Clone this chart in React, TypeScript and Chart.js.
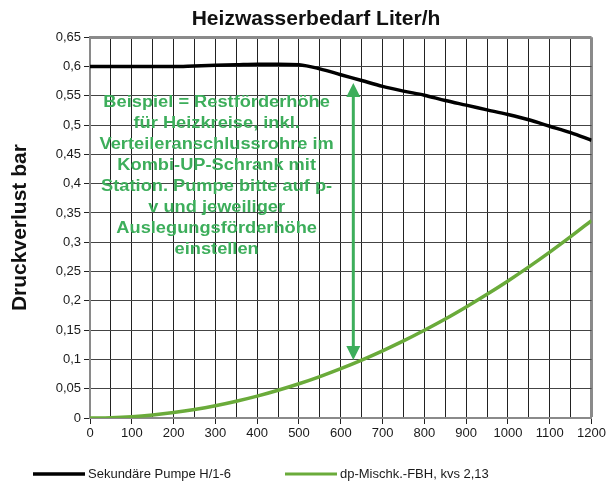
import React, { useEffect, useRef } from "react";
import { Chart, registerables } from "chart.js";

Chart.register(...registerables);

// ---- data ----
const chartTitle = "Heizwasserbedarf Liter/h";
const yAxisTitle = "Druckverlust bar";
const xValues = [0, 50, 100, 150, 200, 250, 300, 350, 400, 450, 500, 550, 600, 650, 700, 750, 800, 850, 900, 950, 1000, 1050, 1100, 1150, 1200];
const pumpeH16 = [0.6, 0.6, 0.6, 0.6, 0.6, 0.601, 0.602, 0.603, 0.604, 0.604, 0.603, 0.596, 0.586, 0.576, 0.566, 0.558, 0.551, 0.542, 0.534, 0.526, 0.518, 0.509, 0.498, 0.487, 0.474];
const mischFBH = [0, 0.0006, 0.0023, 0.0053, 0.0094, 0.0146, 0.021, 0.0287, 0.0374, 0.0474, 0.0585, 0.0708, 0.0843, 0.0989, 0.1147, 0.1316, 0.1498, 0.169, 0.1896, 0.2112, 0.234, 0.258, 0.2832, 0.3095, 0.337];
const seriesLabels = ["Sekundäre Pumpe H/1-6", "dp-Mischk.-FBH, kvs 2,13"];
const xTickLabels = ["0", "100", "200", "300", "400", "500", "600", "700", "800", "900", "1000", "1100", "1200"];
const yTickLabels = ["0", "0,05", "0,1", "0,15", "0,2", "0,25", "0,3", "0,35", "0,4", "0,45", "0,5", "0,55", "0,6", "0,65"];
const annotationLines = [
  "Beispiel = Restförderhöhe",
  "für Heizkreise, inkl.",
  "Verteileranschlussrohre im",
  "Kombi-UP-Schrank mit",
  "Station. Pumpe bitte auf p-",
  "v und jeweiliger",
  "Auslegungsförderhöhe",
  "einstellen",
];
const annotationX = 303;
const annotationTopY = 0.539;
const arrowX = 630;
const arrowTopY = 0.572;
const arrowBottomY = 0.099;

const FONT = '"Liberation Sans", Arial, Helvetica, sans-serif';
const GRAY = "#8a8a8a";
const ANNOT_GREEN = "#3dae5b";

const titleShiftPlugin = {
  id: "titleShift",
  afterLayout(chart: any) {
    const t = chart.titleBlock;
    if (t) {
      t.left += 20;
      t.right += 20;
    }
  },
};

const annotationPlugin = {
  id: "annotationText",
  afterDatasetsDraw(chart: any) {
    const { ctx, scales } = chart;
    const x = scales.x;
    const y = scales.y;
    ctx.save();
    ctx.strokeStyle = ANNOT_GREEN;
    ctx.fillStyle = ANNOT_GREEN;
    const ax = x.getPixelForValue(arrowX);
    const yt = y.getPixelForValue(arrowTopY);
    const yb = y.getPixelForValue(arrowBottomY);
    const head = 14;
    const hw = 7;
    ctx.lineWidth = 3;
    ctx.beginPath();
    ctx.moveTo(ax, yt + head - 1);
    ctx.lineTo(ax, yb - head + 1);
    ctx.stroke();
    ctx.beginPath();
    ctx.moveTo(ax, yt);
    ctx.lineTo(ax - hw, yt + head);
    ctx.lineTo(ax + hw, yt + head);
    ctx.closePath();
    ctx.fill();
    ctx.beginPath();
    ctx.moveTo(ax, yb);
    ctx.lineTo(ax - hw, yb - head);
    ctx.lineTo(ax + hw, yb - head);
    ctx.closePath();
    ctx.fill();
    const tx = x.getPixelForValue(annotationX);
    const ty = y.getPixelForValue(annotationTopY);
    ctx.font = `bold 16px ${FONT}`;
    ctx.textAlign = "center";
    ctx.textBaseline = "middle";
    annotationLines.forEach((line, i) => {
      ctx.save();
      ctx.translate(tx, ty + i * 21);
      ctx.scale(1.14, 1);
      ctx.fillText(line, 0, 0);
      ctx.restore();
    });
    ctx.restore();
  },
};

const legendPlugin = {
  id: "bottomLegend",
  afterDraw(chart: any) {
    const { ctx } = chart;
    const yPos = chart.height - 7;
    const starts = [33, 285];
    ctx.save();
    ctx.font = `13px ${FONT}`;
    ctx.textBaseline = "middle";
    ctx.textAlign = "left";
    chart.data.datasets.forEach((ds: any, i: number) => {
      const x0 = starts[i];
      ctx.strokeStyle = ds.borderColor;
      ctx.lineWidth = i === 0 ? 3.5 : 3;
      ctx.beginPath();
      ctx.moveTo(x0, yPos);
      ctx.lineTo(x0 + 52, yPos);
      ctx.stroke();
      ctx.fillStyle = "#1a1a1a";
      ctx.fillText(ds.label, x0 + 55, yPos);
    });
    ctx.restore();
  },
};

export default function App() {
  const canvasRef = useRef<HTMLCanvasElement | null>(null);

  useEffect(() => {
    document.body.style.margin = "0";
    const canvas = canvasRef.current;
    if (!canvas) return;
    const chart = new Chart(canvas, {
      type: "line",
      data: {
        datasets: [
          {
            label: seriesLabels[0],
            data: xValues.map((x, i) => ({ x, y: pumpeH16[i] })),
            borderColor: "#000000",
            borderWidth: 3.5,
            pointRadius: 0,
            cubicInterpolationMode: "monotone",
            fill: false,
          },
          {
            label: seriesLabels[1],
            data: xValues.map((x, i) => ({ x, y: mischFBH[i] })),
            borderColor: "#6aab3a",
            borderWidth: 3.5,
            pointRadius: 0,
            cubicInterpolationMode: "monotone",
            fill: false,
          },
        ],
      },
      options: {
        responsive: false,
        animation: false,
        layout: { padding: { left: 0, right: 16, top: 0, bottom: 33 } },
        plugins: {
          legend: { display: false },
          tooltip: { enabled: false },
          title: {
            display: true,
            text: chartTitle,
            color: "#111",
            font: { family: FONT, size: 21, weight: "bold" },
            padding: { top: 7, bottom: 5 },
          },
        },
        scales: {
          x: {
            type: "linear",
            min: 0,
            max: 1200,
            afterFit: (scale: any) => {
              scale.height = 30;
            },
            border: { display: true, color: GRAY, width: 2 },
            grid: {
              color: (c: any) => (c.tick && (c.tick.value === 1200 || c.tick.value === 0) ? GRAY : "#222"),
              lineWidth: (c: any) => (c.tick && c.tick.value === 1200 ? 3 : 1),
              tickColor: (c: any) => (c.tick && c.tick.value % 100 === 0 ? "#222" : "rgba(0,0,0,0)"),
              tickWidth: 1,
              tickLength: 6,
            },
            ticks: {
              stepSize: 50,
              autoSkip: false,
              maxRotation: 0,
              padding: 2,
              color: "#1a1a1a",
              font: { family: FONT, size: 13 },
              callback: (v: any) => (v % 100 === 0 ? xTickLabels[v / 100] : ""),
            },
          },
          y: {
            type: "linear",
            min: 0,
            max: 0.65,
            afterFit: (scale: any) => {
              scale.width = 90;
            },
            border: { display: true, color: GRAY, width: 2 },
            title: {
              display: true,
              text: yAxisTitle,
              color: "#111",
              font: { family: FONT, size: 21, weight: "bold" },
              padding: { top: 8, bottom: 0 },
            },
            grid: {
              color: (c: any) =>
                c.tick && (Math.abs(c.tick.value - 0.65) < 1e-6 || c.tick.value === 0) ? GRAY : "#444",
              lineWidth: (c: any) => (c.tick && Math.abs(c.tick.value - 0.65) < 1e-6 ? 3 : 1),
              tickColor: "#222",
              tickWidth: 1,
              tickLength: 6,
            },
            ticks: {
              stepSize: 0.05,
              padding: 3,
              color: "#1a1a1a",
              font: { family: FONT, size: 13 },
              callback: (v: any) => yTickLabels[Math.round(v / 0.05)],
            },
          },
        },
      } as any,
      plugins: [titleShiftPlugin, annotationPlugin, legendPlugin],
    });
    return () => chart.destroy();
  }, []);

  return (
    <div style={{ width: 608, height: 481 }}>
      <canvas ref={canvasRef} width={608} height={481} />
    </div>
  );
}
